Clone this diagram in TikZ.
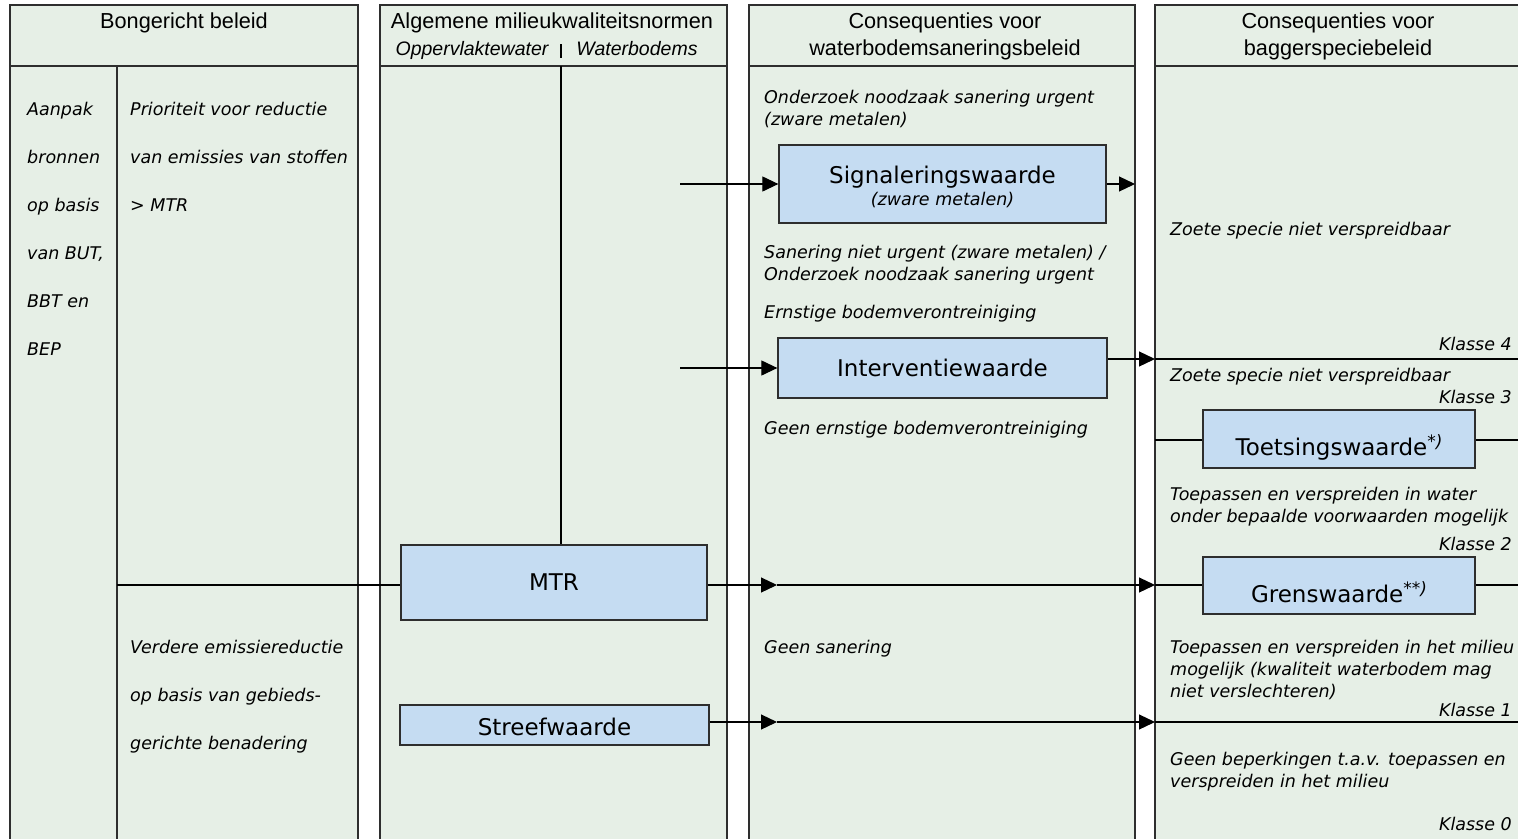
\documentclass[tikz,border=0pt]{standalone}
\usepackage{fontspec}
\setmainfont{DejaVu Sans}
\newfontfamily\hdr{Liberation Sans}
\usetikzlibrary{arrows.meta}
\definecolor{bg}{HTML}{E6EFE6}
\definecolor{boxc}{HTML}{C5DCF2}
\definecolor{lc}{HTML}{2E2E2E}
\tikzset{
  colframe/.style={draw=lc, fill=bg, line width=1.3pt},
  ln/.style={draw=black, line width=1.2pt},
  arr/.style={draw=black, line width=1.2pt, -{Triangle[length=16pt,width=15pt]}},
  valbox/.style={draw=lc, fill=boxc, line width=1.3pt, inner sep=0pt, align=center,
    font=\fontsize{23}{27}\selectfont},
  body/.style={inner sep=0pt, yshift=-3.5pt, font=\fontsize{17.5}{21}\selectfont\itshape},
  hd/.style={inner sep=0pt, font=\hdr\fontsize{21.7}{26}\selectfont},
  hdi/.style={inner sep=0pt, font=\hdr\fontsize{19.5}{26}\selectfont\itshape},
}
\newcommand\bl[3]{\node[body,anchor=mid west] (#1) at #2 {#3};}
\newcommand\kl[3]{\node[body,anchor=mid east] (#1) at #2 {#3};}
\newcommand\supmark[1]{\raisebox{8pt}{\fontsize{17}{17}\selectfont\itshape #1}}
\begin{document}
\begin{tikzpicture}[x=1pt,y=-1pt]
\useasboundingbox (0,0) rectangle (1518,838);
% columns
\draw[colframe] (10,5) rectangle (358,860);
\draw[colframe] (380,5) rectangle (727,860);
\draw[colframe] (749,5) rectangle (1135,860);
\draw[colframe] (1155,5) rectangle (1540,860);
% header separators
\draw[ln,draw=lc] (10,66) -- (358,66);
\draw[ln,draw=lc] (380,66) -- (727,66);
\draw[ln,draw=lc] (749,66) -- (1135,66);
\draw[ln,draw=lc] (1155,66) -- (1540,66);
% headers
\node[hd,anchor=base] (h1) at (184,28) {Bongericht beleid};
\node[hd,anchor=base] (h2) at (552,28) {Algemene milieukwaliteitsnormen};
\node[hdi,anchor=base] (h2a) at (472,55) {Oppervlaktewater};
\node[hdi,anchor=base] (h2b) at (637,55) {Waterbodems};
\node[hd,anchor=base] (h3a) at (945,28) {Consequenties voor};
\node[hd,anchor=base] (h3b) at (945,55) {waterbodemsaneringsbeleid};
\node[hd,anchor=base] (h4a) at (1338,28) {Consequenties voor};
\node[hd,anchor=base] (h4b) at (1338,55) {baggerspeciebeleid};
\coordinate (c2a) at (561,44);
\coordinate (c2b) at (561,58);
\draw[ln] (c2a) -- (c2b);
% column 1 structure
\coordinate (c1t) at (117,66);
\coordinate (c1b) at (117,860);
\draw[ln,draw=lc] (c1t) -- (c1b);
% column 1 texts
\bl{a1}{(27,109)}{Aanpak}
\bl{a2}{(27,157)}{bronnen}
\bl{a3}{(27,205)}{op basis}
\bl{a4}{(27,253)}{van BUT,}
\bl{a5}{(27,301)}{BBT en}
\bl{a6}{(27,349)}{BEP}
\bl{p1}{(130,109)}{Prioriteit voor reductie}
\bl{p2}{(130,157)}{van emissies van stoffen}
\bl{p3}{(130,205)}{> MTR}
\bl{v1}{(130,647)}{Verdere emissiereductie}
\bl{v2}{(130,695)}{op basis van gebieds-}
\bl{v3}{(130,743)}{gerichte benadering}
% boxes
\node[valbox, minimum width=306pt, minimum height=75pt] (mtr) at (554,582.5) {MTR};
\node[valbox, minimum width=309pt, minimum height=40pt] (streef) at (554.5,725)
  {\raisebox{-2pt}[\height][\depth]{Streefwaarde}};
\node[valbox, minimum width=327pt, minimum height=78pt] (sig) at (942.5,184)
  {\raisebox{-3pt}[\height][\depth]{Signaleringswaarde}\\[-4pt]
   \raisebox{-2pt}[\height][\depth]{\itshape\fontsize{17.5}{20}\selectfont (zware metalen)}};
\node[valbox, minimum width=329pt, minimum height=60pt] (int) at (942.5,368) {Interventiewaarde};
\node[valbox, minimum width=272pt, minimum height=58pt] (toets) at (1339,439)
  {\raisebox{-8pt}[\height][\depth]{Toetsingswaarde\supmark{*)}}};
\node[valbox, minimum width=272pt, minimum height=57pt] (gren) at (1339,585.5)
  {\raisebox{-7pt}[\height][\depth]{Grenswaarde\supmark{**)}}};
% column 2 vertical divider
\coordinate (c2v) at (561,66);
\draw[ln] (c2v) -- (c2v |- mtr.north);
% column 1 horizontal to MTR
\coordinate (c1h) at (117,585);
\draw[ln] (c1h) -- (mtr.west |- c1h);
% column 3 texts
\bl{t1}{(764,97)}{Onderzoek noodzaak sanering urgent}
\bl{t2}{(764,119)}{(zware metalen)}
\bl{t3}{(764,252)}{Sanering niet urgent (zware metalen) /}
\bl{t4}{(764,274)}{Onderzoek noodzaak sanering urgent}
\bl{t5}{(764,312)}{Ernstige bodemverontreiniging}
\bl{t6}{(764,428)}{Geen ernstige bodemverontreiniging}
\bl{t7}{(764,647)}{Geen sanering}
% column 4 texts
\bl{z1}{(1170,229)}{Zoete specie niet verspreidbaar}
\kl{k4}{(1512,344)}{Klasse 4}
\bl{z2}{(1170,375)}{Zoete specie niet verspreidbaar}
\kl{k3}{(1512,397)}{Klasse 3}
\bl{w1}{(1170,494)}{Toepassen en verspreiden in water}
\bl{w2}{(1170,516)}{onder bepaalde voorwaarden mogelijk}
\kl{k2}{(1512,544)}{Klasse 2}
\bl{m1}{(1170,647)}{Toepassen en verspreiden in het milieu}
\bl{m2}{(1170,669)}{mogelijk (kwaliteit waterbodem mag}
\bl{m3}{(1170,691)}{niet verslechteren)}
\kl{k1}{(1512,710)}{Klasse 1}
\bl{g1}{(1170,759)}{Geen beperkingen t.a.v. toepassen en}
\bl{g2}{(1170,781)}{verspreiden in het milieu}
\kl{k0}{(1512,824)}{Klasse 0}
% connectors
\coordinate (sigIn) at (680,184);
\draw[arr] (sigIn) -- (sig.west);
\coordinate (sigR) at (1135,184);
\draw[arr] (sig.east) -- (sigR);
\coordinate (intIn) at (680,368);
\draw[arr] (intIn) -- (int.west);
\coordinate (c4k4) at (1155,359);
\coordinate (c4k4r) at (1540,359);
\draw[arr] (int.east |- c4k4) -- (c4k4);
\draw[ln] (c4k4) -- (c4k4r);
\coordinate (c4t) at (1155,440);
\coordinate (c4tr) at (1540,440);
\draw[ln] (c4t) -- (toets.west |- c4t);
\draw[ln] (toets.east |- c4t) -- (c4tr);
\coordinate (mtrM) at (777,585);
\coordinate (c4g) at (1155,585);
\coordinate (c4gr) at (1540,585);
\draw[arr] (mtr.east |- c4g) -- (mtrM);
\draw[arr] (mtrM) -- (c4g);
\draw[ln] (c4g) -- (gren.west |- c4g);
\draw[ln] (gren.east |- c4g) -- (c4gr);
\coordinate (stM) at (777,722);
\coordinate (c4k1) at (1155,722);
\coordinate (c4k1r) at (1540,722);
\draw[arr] (streef.east |- c4k1) -- (stM);
\draw[arr] (stM) -- (c4k1);
\draw[ln] (c4k1) -- (c4k1r);
\end{tikzpicture}
\end{document}
